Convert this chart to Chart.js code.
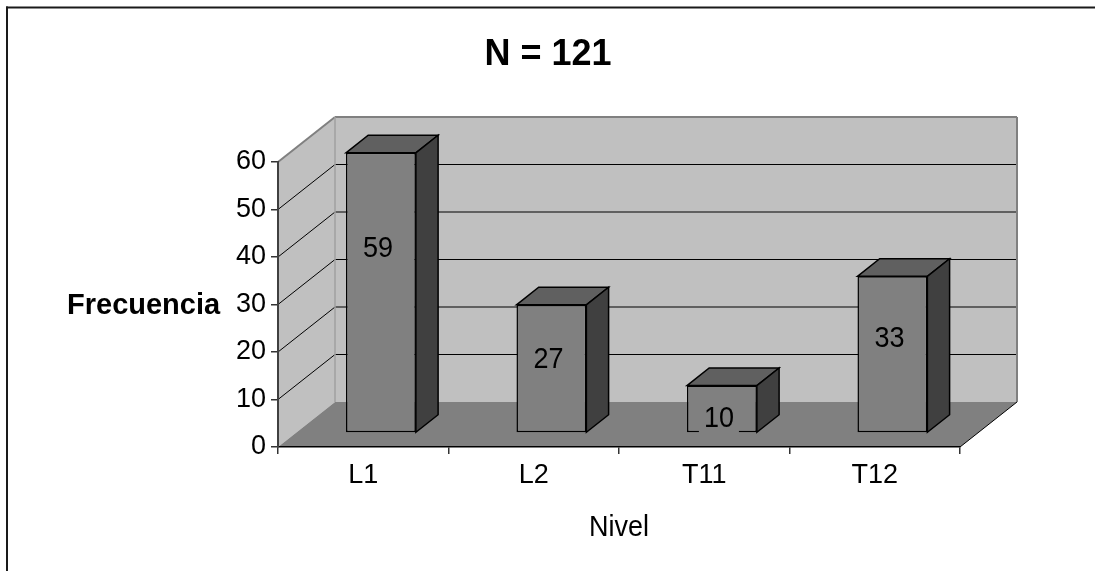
<!DOCTYPE html>
<html><head><meta charset="utf-8">
<script src="https://cdn.jsdelivr.net/npm/chart.js@4/dist/chart.umd.min.js"></script>
<style>html,body{margin:0;padding:0;background:#fff}#wrap{width:1095px;height:571px;position:relative}canvas{display:block}</style>
</head><body><div id="wrap"><canvas id="c" width="1095" height="571"></canvas></div>
<script>
// ---- data ----
const categories = ['L1', 'L2', 'T11', 'T12'];
const frecuencia = [59, 27, 10, 33];
const yTickValues = [0, 10, 20, 30, 40, 50, 60];
const chartTitle = 'N = 121';
const yAxisTitle = 'Frecuencia';
const xAxisTitle = 'Nivel';

// ---- 3D styling ----
const FONT = '"Liberation Sans", Arial, sans-serif';
const DEPTH = { dx: 57, dy: -45 };      // total floor depth
const BAR_FRONT = 0.31, BAR_BACK = 0.70; // fraction of depth
const BX = DEPTH.dx * BAR_FRONT, BY = DEPTH.dy * BAR_FRONT;
const BDX = DEPTH.dx * (BAR_BACK - BAR_FRONT), BDY = DEPTH.dy * (BAR_BACK - BAR_FRONT);
const yMin = yTickValues[0], yMax = yTickValues[yTickValues.length - 1];

function poly(ctx, pts, fill, stroke, lw) {
  ctx.beginPath();
  ctx.moveTo(pts[0][0], pts[0][1]);
  for (let i = 1; i < pts.length; i++) ctx.lineTo(pts[i][0], pts[i][1]);
  ctx.closePath();
  if (fill) { ctx.fillStyle = fill; ctx.fill(); }
  if (stroke) { ctx.strokeStyle = stroke; ctx.lineWidth = lw || 1; ctx.stroke(); }
}
function line(ctx, x1, y1, x2, y2, color, lw) {
  ctx.beginPath(); ctx.moveTo(x1, y1); ctx.lineTo(x2, y2);
  ctx.strokeStyle = color; ctx.lineWidth = lw; ctx.stroke();
}
function text(ctx, str, x, y, font, align, baseline, sy) {
  ctx.save();
  ctx.translate(x, y);
  ctx.scale(1, sy || 1);
  ctx.font = font; ctx.textAlign = align; ctx.textBaseline = baseline;
  ctx.fillStyle = '#000';
  ctx.fillText(str, 0, 0);
  ctx.restore();
}

const walls3d = {
  id: 'walls3d',
  beforeDraw(chart) {
    const ctx = chart.ctx, ys = chart.scales.y;
    const { left, right } = chart.chartArea;
    const y0 = ys.getPixelForValue(yMin), yT = ys.getPixelForValue(yMax);
    const dx = DEPTH.dx, dy = DEPTH.dy;
    ctx.save();
    // outer frame (top + left)
    line(ctx, 6, 7.5, 1095, 7.5, '#1a1a1a', 2);
    line(ctx, 7, 6.5, 7, 571, '#1a1a1a', 2);
    // back wall
    poly(ctx, [[left + dx, yT + dy], [right + dx, yT + dy], [right + dx, y0 + dy], [left + dx, y0 + dy]], '#C0C0C0');
    // left wall
    poly(ctx, [[left, yT], [left + dx, yT + dy], [left + dx, y0 + dy], [left, y0]], '#C0C0C0');
    // floor
    poly(ctx, [[left, y0], [left + dx, y0 + dy], [right + dx, y0 + dy], [right, y0]], '#808080');
    // gridlines
    yTickValues.forEach(v => {
      if (v === yMin || v === yMax) return;
      const y = ys.getPixelForValue(v);
      line(ctx, left, y, left + dx, y + dy, '#000', 1);
      line(ctx, left + dx, y + dy, right + dx, y + dy, '#000', 1);
    });
    // wall edges
    line(ctx, left, yT, left + dx, yT + dy, '#808080', 2);
    line(ctx, left + dx, yT + dy, right + dx, yT + dy, '#808080', 2);
    line(ctx, right + dx, yT + dy, right + dx, y0 + dy, '#808080', 2);
    line(ctx, left + dx, yT + dy, left + dx, y0 + dy, '#A0A0A0', 1.5);
    line(ctx, right, y0, right + dx, y0 + dy, '#000', 1);
    ctx.restore();
  },
  beforeDatasetsDraw(chart) {
    chart.ctx.save();
    chart.ctx.translate(BX, BY);
  },
  afterDatasetsDraw(chart) {
    const ctx = chart.ctx;
    const meta = chart.getDatasetMeta(0);
    meta.data.forEach(el => {
      const p = el.getProps(['x', 'y', 'base', 'width'], true);
      const l = p.x - p.width / 2, r = p.x + p.width / 2, t = p.y, b = p.base;
      ctx.lineJoin = 'miter';
      poly(ctx, [[l, t], [l + BDX, t + BDY], [r + BDX, t + BDY], [r, t]], '#606060', '#000', 1.5);
      poly(ctx, [[r, t], [r + BDX, t + BDY], [r + BDX, b + BDY], [r, b]], '#404040', '#000', 1.5);
    });
    ctx.restore();
    // data labels
    const ys = chart.scales.y;
    ctx.save();
    const lf = '27px ' + FONT;
    ctx.font = lf;
    meta.data.forEach((el, i) => {
      const v = frecuencia[i];
      const lx = el.x + BX - 3;
      const ly = ys.getPixelForValue(v * 0.73) + 5;
      const w = ctx.measureText(String(v)).width;
      ctx.fillStyle = '#808080';
      ctx.fillRect(lx - w / 2 - 5, ly - 18, w + 10, 36);
      text(ctx, String(v), lx, ly + 1, lf, 'center', 'middle', 1.12);
    });
    ctx.restore();
  },
  afterDraw(chart) {
    const ctx = chart.ctx;
    const { left, right } = chart.chartArea;
    text(ctx, chartTitle, 548, 65, 'bold 36px ' + FONT, 'center', 'alphabetic', 1.05);
    text(ctx, yAxisTitle, 67, 314, 'bold 29px ' + FONT, 'left', 'alphabetic', 1.0);
    text(ctx, xAxisTitle, (left + right) / 2, 536, '27px ' + FONT, 'center', 'alphabetic', 1.12);
  }
};

new Chart(document.getElementById('c'), {
  type: 'bar',
  data: {
    labels: categories,
    datasets: [{
      label: yAxisTitle,
      data: frecuencia,
      backgroundColor: '#808080',
      borderColor: '#000',
      borderWidth: 1.5,
      borderSkipped: false,
      barPercentage: 0.41,
      categoryPercentage: 1,
      clip: false
    }]
  },
  options: {
    responsive: false,
    animation: false,
    devicePixelRatio: 1,
    layout: { padding: { top: 162, right: 135, left: 0, bottom: 0 } },
    plugins: { legend: { display: false }, tooltip: { enabled: false }, title: { display: false } },
    scales: {
      x: {
        offset: true,
        grid: { display: true, offset: true, drawOnChartArea: false, drawTicks: true, tickLength: 7, color: '#333', lineWidth: 1.5 },
        border: { display: true, color: '#000', width: 1.5 },
        ticks: { color: '#000', font: { family: FONT, size: 27 }, padding: 5, maxRotation: 0, autoSkip: false },
        afterFit(s) { s.height = 124; }
      },
      y: {
        min: yMin, max: yMax,
        grid: { display: true, drawOnChartArea: false, drawTicks: true, tickLength: 7, color: '#333', lineWidth: 1.5 },
        border: { display: true, color: '#404040', width: 2 },
        ticks: { stepSize: 10, color: '#000', font: { family: FONT, size: 27 }, padding: 5 },
        afterFit(s) { s.width = 278; }
      }
    }
  },
  plugins: [walls3d]
});
</script>
</body></html>
